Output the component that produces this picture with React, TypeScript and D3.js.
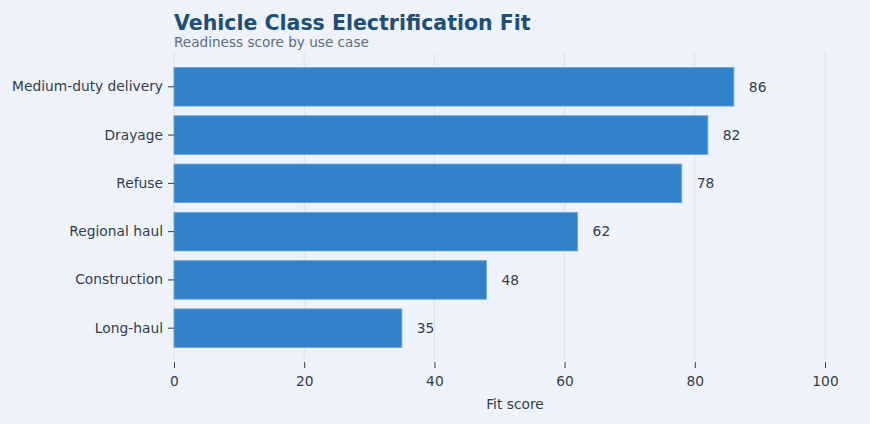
import React, { useEffect, useRef } from 'react';
import * as d3 from 'd3';

const categories = ['Medium-duty delivery', 'Drayage', 'Refuse', 'Regional haul', 'Construction', 'Long-haul'];
const scores = [86, 82, 78, 62, 48, 35];
const xTicks = [0, 20, 40, 60, 80, 100];

const W = 870;
const H = 424;
const FONT = 'DejaVu Sans, sans-serif';

const FitChart = () => {
  const svgRef = useRef<SVGSVGElement | null>(null);

  useEffect(() => {
    document.body.style.margin = '0';
    if (!svgRef.current) return;
    const svg = d3.select(svgRef.current);
    svg.selectAll('*').remove();

    const left = 174, right = 825, top = 53, bottom = 362;

    svg.append('rect').attr('width', W).attr('height', H).attr('fill', '#eef3fb');

    const x = d3.scaleLinear().domain([0, 100]).range([left, right]);
    const y = d3.scaleBand<string>()
      .domain(categories)
      .range([top, bottom])
      .paddingInner(0.2)
      .paddingOuter(0.3);

    // grid
    svg.append('g')
      .selectAll('line')
      .data(xTicks)
      .enter()
      .append('line')
      .attr('x1', d => x(d))
      .attr('x2', d => x(d))
      .attr('y1', top)
      .attr('y2', bottom - 2)
      .attr('stroke', '#d9e1ea')
      .attr('stroke-width', 1);

    // bars
    svg.append('g')
      .selectAll('rect')
      .data(categories)
      .enter()
      .append('rect')
      .attr('x', x(0))
      .attr('y', d => y(d)!)
      .attr('width', (d, i) => x(scores[i]) - x(0))
      .attr('height', y.bandwidth())
      .attr('fill', '#3182c8')
      .attr('stroke', '#6aa5dc')
      .attr('stroke-width', 0.8);

    // value labels
    svg.append('g')
      .selectAll('text')
      .data(categories)
      .enter()
      .append('text')
      .attr('x', (d, i) => x(scores[i]) + 15)
      .attr('y', d => y(d)! + y.bandwidth() / 2)
      .attr('dy', '0.35em')
      .attr('font-family', FONT)
      .attr('font-size', 13.8)
      .attr('fill', '#333d4a')
      .text((d, i) => String(scores[i]));

    // y axis
    const yAxis = svg.append('g')
      .attr('transform', `translate(${left},0)`)
      .call(d3.axisLeft(y).tickSize(6).tickPadding(5));
    yAxis.select('.domain').remove();
    yAxis.selectAll('line').attr('stroke', '#333d4a');
    yAxis.selectAll('text')
      .attr('font-family', FONT)
      .attr('font-size', 13.8)
      .attr('fill', '#333d4a');

    // x axis
    const xAxis = svg.append('g')
      .attr('transform', `translate(0,${bottom})`)
      .call(d3.axisBottom(x).tickValues(xTicks).tickSize(6).tickPadding(8));
    xAxis.select('.domain').remove();
    xAxis.selectAll('line').attr('stroke', '#333d4a');
    xAxis.selectAll('text')
      .attr('font-family', FONT)
      .attr('font-size', 13.8)
      .attr('fill', '#333d4a');

    svg.append('text')
      .attr('x', 515)
      .attr('y', 409)
      .attr('text-anchor', 'middle')
      .attr('font-family', FONT)
      .attr('font-size', 13.8)
      .attr('fill', '#333d4a')
      .text('Fit score');

    svg.append('text')
      .attr('x', left)
      .attr('y', 30)
      .attr('font-family', FONT)
      .attr('font-size', 20.5)
      .attr('font-weight', 'bold')
      .attr('fill', '#1f4e79')
      .text('Vehicle Class Electrification Fit');

    svg.append('text')
      .attr('x', left)
      .attr('y', 47)
      .attr('font-family', FONT)
      .attr('font-size', 13.6)
      .attr('fill', '#5d6d7e')
      .text('Readiness score by use case');
  }, []);

  return <svg ref={svgRef} width={W} height={H} style={{ display: 'block' }}></svg>;
};

export default function App() {
  return (
    <div>
      <FitChart />
    </div>
  );
}
